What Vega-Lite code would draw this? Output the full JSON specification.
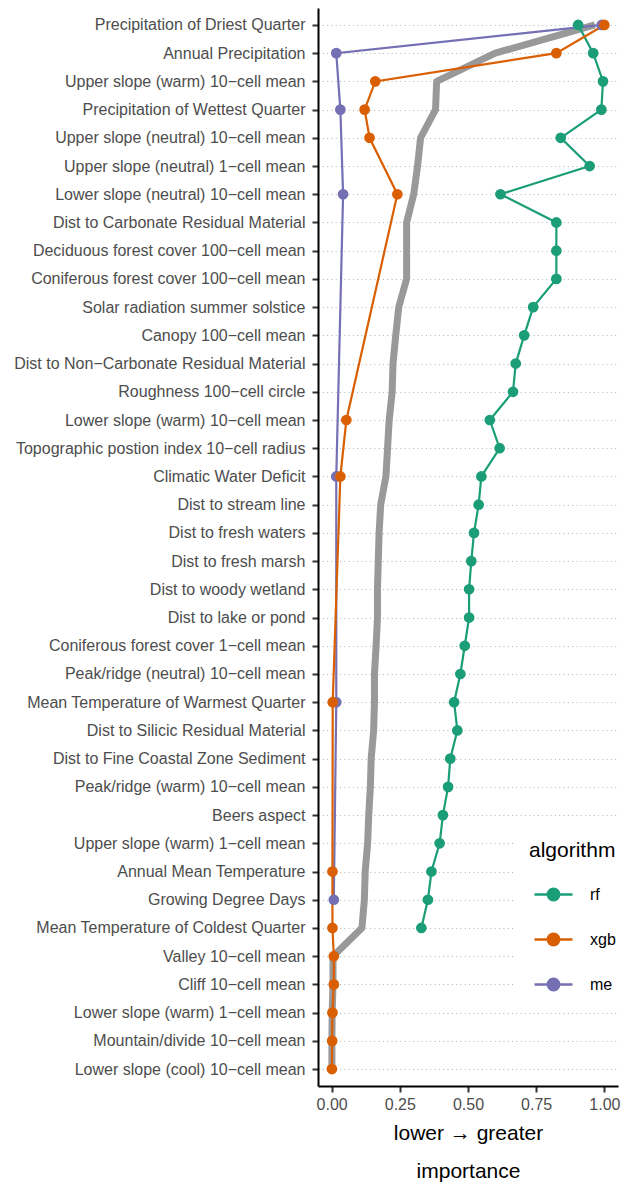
{
  "$schema": "https://vega.github.io/schema/vega-lite/v6.json",
  "width": 300,
  "height": 1078,
  "autosize": {"type": "none"},
  "padding": {"left": 318, "top": 8, "right": 11, "bottom": 96},
  "config": {"font": "Liberation Sans", "view": {"stroke": null}},
  "datasets": {
    "avg": [
      {"v": "Precipitation of Driest Quarter", "r": 1, "imp": 0.965},
      {"v": "Annual Precipitation", "r": 2, "imp": 0.600},
      {"v": "Upper slope (warm) 10−cell mean", "r": 3, "imp": 0.385},
      {"v": "Precipitation of Wettest Quarter", "r": 4, "imp": 0.381},
      {"v": "Upper slope (neutral) 10−cell mean", "r": 5, "imp": 0.326},
      {"v": "Upper slope (neutral) 1−cell mean", "r": 6, "imp": 0.315},
      {"v": "Lower slope (neutral) 10−cell mean", "r": 7, "imp": 0.301},
      {"v": "Dist to Carbonate Residual Material", "r": 8, "imp": 0.275},
      {"v": "Deciduous forest cover 100−cell mean", "r": 9, "imp": 0.275},
      {"v": "Coniferous forest cover 100−cell mean", "r": 10, "imp": 0.275},
      {"v": "Solar radiation summer solstice", "r": 11, "imp": 0.246},
      {"v": "Canopy 100−cell mean", "r": 12, "imp": 0.235},
      {"v": "Dist to Non−Carbonate Residual Material", "r": 13, "imp": 0.225},
      {"v": "Roughness 100−cell circle", "r": 14, "imp": 0.222},
      {"v": "Lower slope (warm) 10−cell mean", "r": 15, "imp": 0.211},
      {"v": "Topographic postion index 10−cell radius", "r": 16, "imp": 0.205},
      {"v": "Climatic Water Deficit", "r": 17, "imp": 0.199},
      {"v": "Dist to stream line", "r": 18, "imp": 0.180},
      {"v": "Dist to fresh waters", "r": 19, "imp": 0.174},
      {"v": "Dist to fresh marsh", "r": 20, "imp": 0.171},
      {"v": "Dist to woody wetland", "r": 21, "imp": 0.168},
      {"v": "Dist to lake or pond", "r": 22, "imp": 0.168},
      {"v": "Coniferous forest cover 1−cell mean", "r": 23, "imp": 0.163},
      {"v": "Peak/ridge (neutral) 10−cell mean", "r": 24, "imp": 0.157},
      {"v": "Mean Temperature of Warmest Quarter", "r": 25, "imp": 0.157},
      {"v": "Dist to Silicic Residual Material", "r": 26, "imp": 0.154},
      {"v": "Dist to Fine Coastal Zone Sediment", "r": 27, "imp": 0.145},
      {"v": "Peak/ridge (warm) 10−cell mean", "r": 28, "imp": 0.142},
      {"v": "Beers aspect", "r": 29, "imp": 0.136},
      {"v": "Upper slope (warm) 1−cell mean", "r": 30, "imp": 0.132},
      {"v": "Annual Mean Temperature", "r": 31, "imp": 0.123},
      {"v": "Growing Degree Days", "r": 32, "imp": 0.120},
      {"v": "Mean Temperature of Coldest Quarter", "r": 33, "imp": 0.111},
      {"v": "Valley 10−cell mean", "r": 34, "imp": 0.005},
      {"v": "Cliff 10−cell mean", "r": 35, "imp": 0.005},
      {"v": "Lower slope (warm) 1−cell mean", "r": 36, "imp": 0.002},
      {"v": "Mountain/divide 10−cell mean", "r": 37, "imp": 0.001},
      {"v": "Lower slope (cool) 10−cell mean", "r": 38, "imp": 0.001}
    ],
    "pts": [
      {"alg": "me", "v": "Precipitation of Driest Quarter", "r": 1, "imp": 0.99},
      {"alg": "me", "v": "Annual Precipitation", "r": 2, "imp": 0.017},
      {"alg": "me", "v": "Precipitation of Wettest Quarter", "r": 4, "imp": 0.032},
      {"alg": "me", "v": "Lower slope (neutral) 10−cell mean", "r": 7, "imp": 0.042},
      {"alg": "me", "v": "Climatic Water Deficit", "r": 17, "imp": 0.017},
      {"alg": "me", "v": "Mean Temperature of Warmest Quarter", "r": 25, "imp": 0.017},
      {"alg": "me", "v": "Growing Degree Days", "r": 32, "imp": 0.008},
      {"alg": "rf", "v": "Precipitation of Driest Quarter", "r": 1, "imp": 0.904},
      {"alg": "rf", "v": "Annual Precipitation", "r": 2, "imp": 0.959},
      {"alg": "rf", "v": "Upper slope (warm) 10−cell mean", "r": 3, "imp": 0.995},
      {"alg": "rf", "v": "Precipitation of Wettest Quarter", "r": 4, "imp": 0.989},
      {"alg": "rf", "v": "Upper slope (neutral) 10−cell mean", "r": 5, "imp": 0.840},
      {"alg": "rf", "v": "Upper slope (neutral) 1−cell mean", "r": 6, "imp": 0.946},
      {"alg": "rf", "v": "Lower slope (neutral) 10−cell mean", "r": 7, "imp": 0.619},
      {"alg": "rf", "v": "Dist to Carbonate Residual Material", "r": 8, "imp": 0.824},
      {"alg": "rf", "v": "Deciduous forest cover 100−cell mean", "r": 9, "imp": 0.824},
      {"alg": "rf", "v": "Coniferous forest cover 100−cell mean", "r": 10, "imp": 0.824},
      {"alg": "rf", "v": "Solar radiation summer solstice", "r": 11, "imp": 0.739},
      {"alg": "rf", "v": "Canopy 100−cell mean", "r": 12, "imp": 0.706},
      {"alg": "rf", "v": "Dist to Non−Carbonate Residual Material", "r": 13, "imp": 0.675},
      {"alg": "rf", "v": "Roughness 100−cell circle", "r": 14, "imp": 0.665},
      {"alg": "rf", "v": "Lower slope (warm) 10−cell mean", "r": 15, "imp": 0.580},
      {"alg": "rf", "v": "Topographic postion index 10−cell radius", "r": 16, "imp": 0.616},
      {"alg": "rf", "v": "Climatic Water Deficit", "r": 17, "imp": 0.549},
      {"alg": "rf", "v": "Dist to stream line", "r": 18, "imp": 0.539},
      {"alg": "rf", "v": "Dist to fresh waters", "r": 19, "imp": 0.522},
      {"alg": "rf", "v": "Dist to fresh marsh", "r": 20, "imp": 0.512},
      {"alg": "rf", "v": "Dist to woody wetland", "r": 21, "imp": 0.504},
      {"alg": "rf", "v": "Dist to lake or pond", "r": 22, "imp": 0.504},
      {"alg": "rf", "v": "Coniferous forest cover 1−cell mean", "r": 23, "imp": 0.488},
      {"alg": "rf", "v": "Peak/ridge (neutral) 10−cell mean", "r": 24, "imp": 0.472},
      {"alg": "rf", "v": "Mean Temperature of Warmest Quarter", "r": 25, "imp": 0.449},
      {"alg": "rf", "v": "Dist to Silicic Residual Material", "r": 26, "imp": 0.461},
      {"alg": "rf", "v": "Dist to Fine Coastal Zone Sediment", "r": 27, "imp": 0.435},
      {"alg": "rf", "v": "Peak/ridge (warm) 10−cell mean", "r": 28, "imp": 0.427},
      {"alg": "rf", "v": "Beers aspect", "r": 29, "imp": 0.408},
      {"alg": "rf", "v": "Upper slope (warm) 1−cell mean", "r": 30, "imp": 0.396},
      {"alg": "rf", "v": "Annual Mean Temperature", "r": 31, "imp": 0.366},
      {"alg": "rf", "v": "Growing Degree Days", "r": 32, "imp": 0.353},
      {"alg": "rf", "v": "Mean Temperature of Coldest Quarter", "r": 33, "imp": 0.329},
      {"alg": "xgb", "v": "Precipitation of Driest Quarter", "r": 1, "imp": 1.0},
      {"alg": "xgb", "v": "Annual Precipitation", "r": 2, "imp": 0.824},
      {"alg": "xgb", "v": "Upper slope (warm) 10−cell mean", "r": 3, "imp": 0.160},
      {"alg": "xgb", "v": "Precipitation of Wettest Quarter", "r": 4, "imp": 0.121},
      {"alg": "xgb", "v": "Upper slope (neutral) 10−cell mean", "r": 5, "imp": 0.139},
      {"alg": "xgb", "v": "Lower slope (neutral) 10−cell mean", "r": 7, "imp": 0.241},
      {"alg": "xgb", "v": "Lower slope (warm) 10−cell mean", "r": 15, "imp": 0.054},
      {"alg": "xgb", "v": "Climatic Water Deficit", "r": 17, "imp": 0.032},
      {"alg": "xgb", "v": "Mean Temperature of Warmest Quarter", "r": 25, "imp": 0.004},
      {"alg": "xgb", "v": "Annual Mean Temperature", "r": 31, "imp": 0.003},
      {"alg": "xgb", "v": "Mean Temperature of Coldest Quarter", "r": 33, "imp": 0.003},
      {"alg": "xgb", "v": "Valley 10−cell mean", "r": 34, "imp": 0.008},
      {"alg": "xgb", "v": "Cliff 10−cell mean", "r": 35, "imp": 0.008},
      {"alg": "xgb", "v": "Lower slope (warm) 1−cell mean", "r": 36, "imp": 0.003},
      {"alg": "xgb", "v": "Mountain/divide 10−cell mean", "r": 37, "imp": 0.002},
      {"alg": "xgb", "v": "Lower slope (cool) 10−cell mean", "r": 38, "imp": 0.001}
    ]
  },
  "encoding": {
    "y": {
      "field": "v",
      "type": "ordinal",
      "sort": [
        "Precipitation of Driest Quarter", "Annual Precipitation", "Upper slope (warm) 10−cell mean",
        "Precipitation of Wettest Quarter", "Upper slope (neutral) 10−cell mean", "Upper slope (neutral) 1−cell mean",
        "Lower slope (neutral) 10−cell mean", "Dist to Carbonate Residual Material", "Deciduous forest cover 100−cell mean",
        "Coniferous forest cover 100−cell mean", "Solar radiation summer solstice", "Canopy 100−cell mean",
        "Dist to Non−Carbonate Residual Material", "Roughness 100−cell circle", "Lower slope (warm) 10−cell mean",
        "Topographic postion index 10−cell radius", "Climatic Water Deficit", "Dist to stream line",
        "Dist to fresh waters", "Dist to fresh marsh", "Dist to woody wetland", "Dist to lake or pond",
        "Coniferous forest cover 1−cell mean", "Peak/ridge (neutral) 10−cell mean", "Mean Temperature of Warmest Quarter",
        "Dist to Silicic Residual Material", "Dist to Fine Coastal Zone Sediment", "Peak/ridge (warm) 10−cell mean",
        "Beers aspect", "Upper slope (warm) 1−cell mean", "Annual Mean Temperature", "Growing Degree Days",
        "Mean Temperature of Coldest Quarter", "Valley 10−cell mean", "Cliff 10−cell mean",
        "Lower slope (warm) 1−cell mean", "Mountain/divide 10−cell mean", "Lower slope (cool) 10−cell mean"
      ],
      "scale": {"type": "point", "padding": 0.6},
      "axis": {
        "title": null,
        "grid": true,
        "gridDash": [1, 3.3],
        "gridColor": "#B3B3B3",
        "gridWidth": 1,
        "domainColor": "black",
        "domainWidth": 2,
        "tickColor": "#333333",
        "tickWidth": 2,
        "tickSize": 6,
        "labelFontSize": 16,
        "labelColor": "#4D4D4D",
        "labelPadding": 7,
        "labelLimit": 400
      }
    },
    "x": {
      "field": "imp",
      "type": "quantitative",
      "scale": {"domain": [-0.05, 1.05], "nice": false, "zero": false},
      "axis": {
        "values": [0, 0.25, 0.5, 0.75, 1],
        "format": ".2f",
        "grid": false,
        "domainColor": "black",
        "domainWidth": 2,
        "tickColor": "#333333",
        "tickWidth": 2,
        "tickSize": 6,
        "labelFontSize": 16,
        "labelColor": "#4D4D4D",
        "labelPadding": 4,
        "title": ["lower → greater", "importance"],
        "titleFontSize": 21,
        "titleFontWeight": "normal",
        "titleColor": "black",
        "titlePadding": 10,
        "titleLineHeight": 38.5
      }
    }
  },
  "layer": [
    {
      "data": {"name": "avg"},
      "mark": {"type": "line", "color": "#999999", "strokeWidth": 7, "strokeJoin": "round"},
      "encoding": {"order": {"field": "r", "type": "quantitative"}}
    },
    {
      "data": {"name": "pts"},
      "encoding": {
        "color": {
          "field": "alg",
          "type": "nominal",
          "scale": {"domain": ["rf", "xgb", "me"], "range": ["#1B9E77", "#D95F02", "#7570B3"]},
          "legend": {
            "title": "algorithm",
            "orient": "none",
            "legendX": 197,
            "legendY": 818,
            "padding": 14,
            "fillColor": "white",
            "strokeColor": null,
            "titleFontSize": 21,
            "titleColor": "black",
            "titleFontWeight": "normal",
            "titlePadding": 13,
            "labelFontSize": 16,
            "labelColor": "black",
            "labelOffset": 16,
            "symbolType": "M-1,0L1,0M0.3,0A0.3,0.3,0,1,1,-0.3,0A0.3,0.3,0,1,1,0.3,0Z",
            "symbolSize": 1444,
            "symbolStrokeWidth": 2.4,
            "symbolOffset": 4,
            "rowPadding": 14,
            "encode": {
              "symbols": {
                "update": {
                  "fill": {"scale": "color", "field": "value"},
                  "stroke": {"scale": "color", "field": "value"},
                  "strokeWidth": {"value": 2.4},
                  "opacity": {"value": 1}
                }
              }
            }
          }
        }
      },
      "layer": [
        {
          "mark": {"type": "line", "strokeWidth": 2.2},
          "encoding": {"order": {"field": "r", "type": "quantitative"}}
        },
        {
          "mark": {"type": "point", "filled": true, "size": 115, "opacity": 1}
        }
      ]
    }
  ]
}
